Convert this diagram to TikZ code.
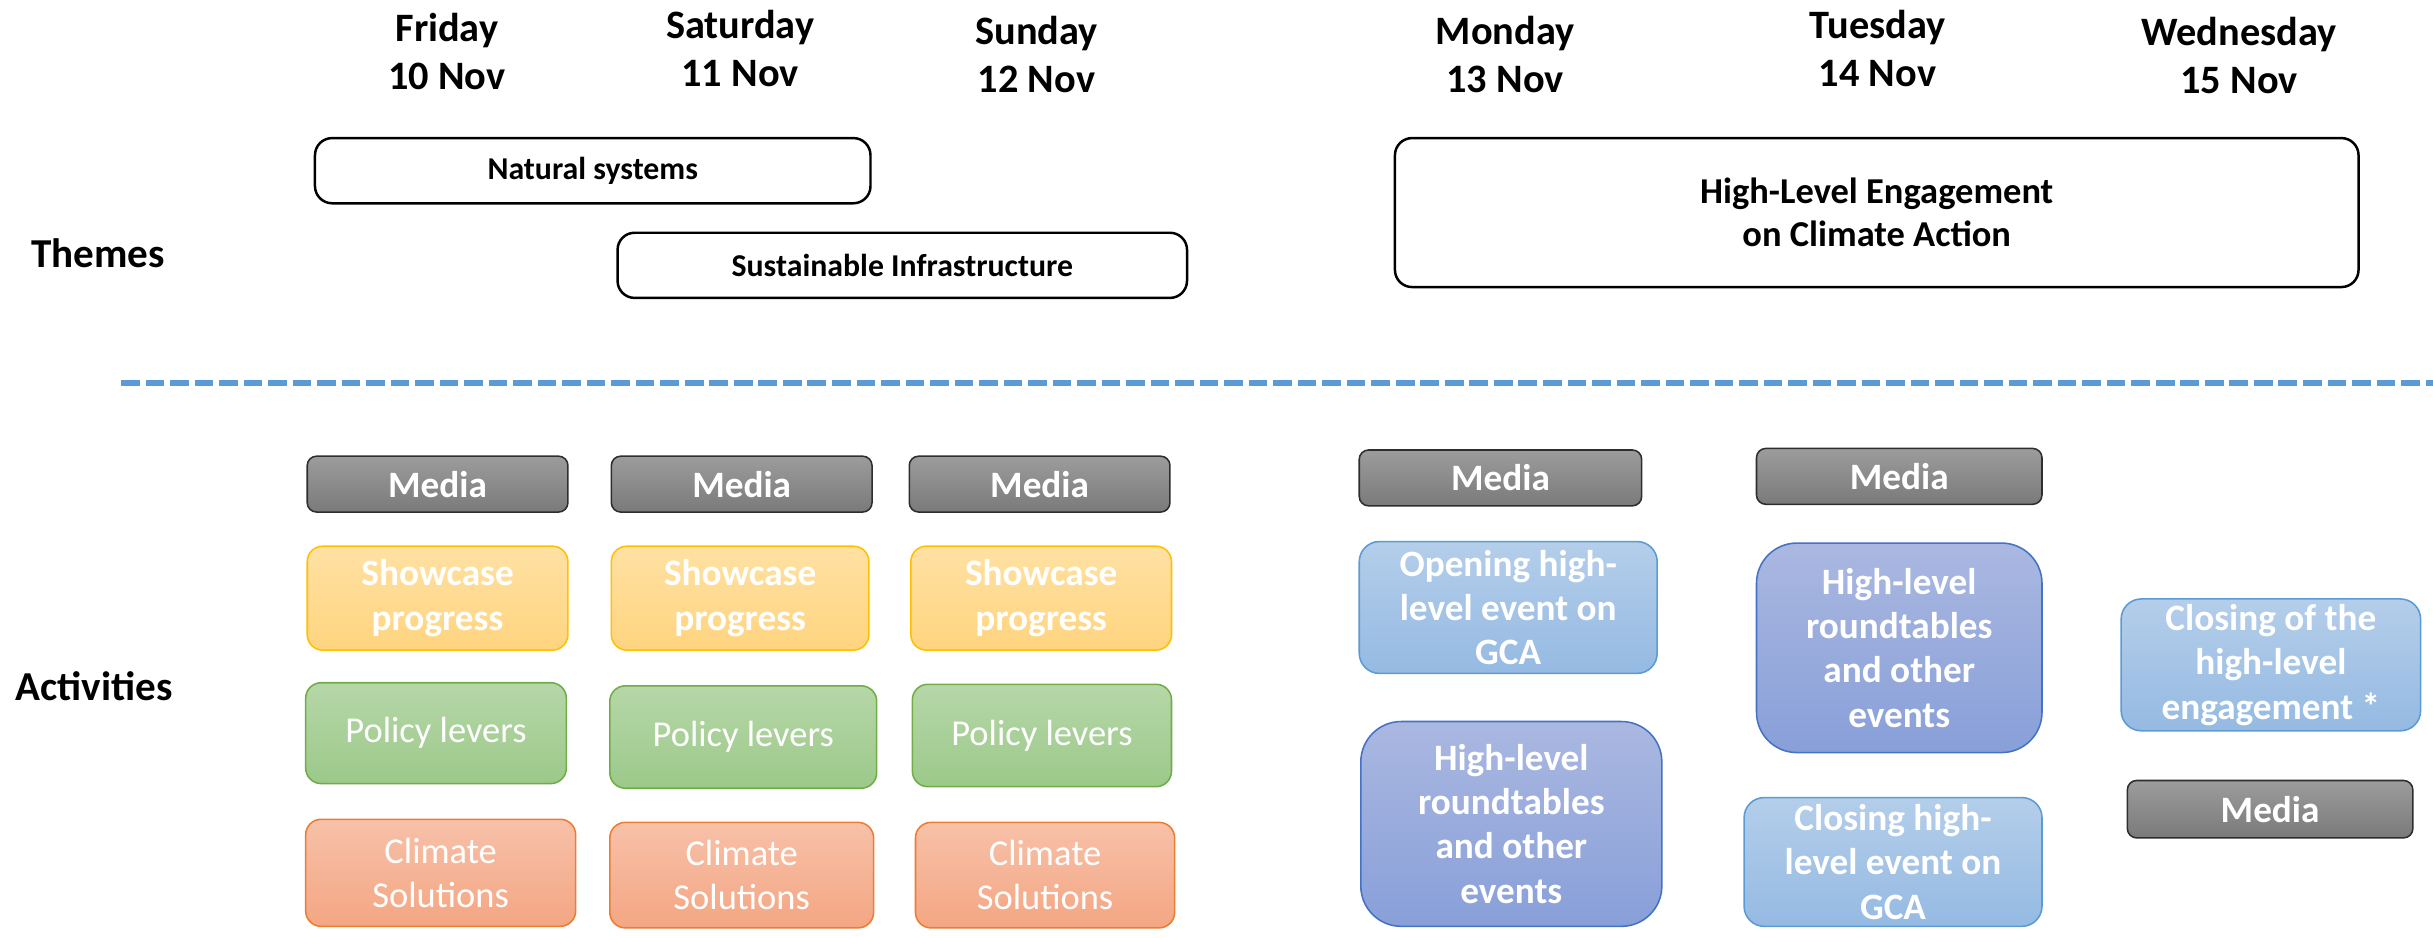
\documentclass[tikz,border=0pt]{standalone}
\usepackage{fontspec}
\setmainfont{Carlito}
\usetikzlibrary{shadings}
\definecolor{mediaTop}{HTML}{9C9C9C}
\definecolor{mediaBot}{HTML}{7A7A7A}
\definecolor{mediaBrd}{HTML}{2E2E2E}
\definecolor{showTop}{HTML}{FFE1A3}
\definecolor{showBot}{HTML}{FFD47F}
\definecolor{showBrd}{HTML}{FFC000}
\definecolor{polTop}{HTML}{B6D7A8}
\definecolor{polBot}{HTML}{9CC98A}
\definecolor{polBrd}{HTML}{70AD47}
\definecolor{cliTop}{HTML}{F7C1A9}
\definecolor{cliBot}{HTML}{F4A683}
\definecolor{cliBrd}{HTML}{ED7D31}
\definecolor{lbTop}{HTML}{B4CEEA}
\definecolor{lbBot}{HTML}{95BAE2}
\definecolor{lbBrd}{HTML}{5B9BD5}
\definecolor{dbTop}{HTML}{AAB8E1}
\definecolor{dbBot}{HTML}{889FD8}
\definecolor{dbBrd}{HTML}{4472C4}
\definecolor{dashBlue}{HTML}{5B9BD5}
\newcommand\bx[7]{\node[#2, minimum width={(#5-#3)*1pt}, minimum height={(#6-#4)*1pt}] (#1) at ({(#3+#5)/2},{(#4+#6)/2}) {#7};}
\begin{document}
\begin{tikzpicture}[x=1pt,y=-1pt,
  base/.style={inner sep=0pt, outer sep=0pt, align=center, text=white, line width=1pt},
  boldtxt/.style={font=\bfseries\fontsize{24}{28.5}\selectfont},
  regtxt/.style={font=\fontsize{23.5}{28.5}\selectfont},
  media/.style={base, boldtxt, draw=mediaBrd, top color=mediaTop, bottom color=mediaBot, rounded corners=6pt},
  showcase/.style={base, boldtxt, draw=showBrd, top color=showTop, bottom color=showBot, rounded corners=10pt},
  policy/.style={base, regtxt, draw=polBrd, top color=polTop, bottom color=polBot, rounded corners=10pt},
  climate/.style={base, regtxt, draw=cliBrd, top color=cliTop, bottom color=cliBot, rounded corners=10pt},
  lblue/.style={base, boldtxt, draw=lbBrd, top color=lbTop, bottom color=lbBot, rounded corners=13pt},
  dblue/.style={base, boldtxt, draw=dbBrd, top color=dbTop, bottom color=dbBot, rounded corners=26pt},
  theme/.style={inner sep=0pt, outer sep=0pt, align=center, text=black, draw=black, line width=1.6pt, fill=white, rounded corners=11pt, font=\bfseries\fontsize{20.5}{28}\selectfont},
  day/.style={inner sep=0pt, align=center, text=black, font=\bfseries\fontsize{26}{31}\selectfont},
  rowlabel/.style={inner sep=0pt, anchor=west, text=black, font=\bfseries\fontsize{26.5}{31}\selectfont},
  dashline/.style={draw=dashBlue, line width=3.6pt, dash pattern=on 12pt off 3.8pt}
]
\useasboundingbox (0,0) rectangle (1568,603.9);

% day headers
\node[day] (fri) at (288,33) {Friday\\10 Nov};
\node[day] (sat) at (477,31) {Saturday\\11 Nov};
\node[day] (sun) at (668,35) {Sunday\\12 Nov};
\node[day] (mon) at (970,35) {Monday\\13 Nov};
\node[day] (tue) at (1210,31) {Tuesday\\14 Nov};
\node[day] (wed) at (1443,36) {Wednesday\\15 Nov};

% row labels
\node[rowlabel] (themes) at (20,163) {Themes};
\node[rowlabel] (acts) at (10,442) {Activities};

% themes
\bx{nat}{theme}{203}{89}{561}{131}{Natural systems}
\bx{sus}{theme}{398}{150}{765}{192}{Sustainable Infrastructure}
\bx{hle}{theme,font=\bfseries\fontsize{23.5}{28}\selectfont}{899}{89}{1520}{185}{High-Level Engagement\\on Climate Action}

% separator
\coordinate (dl) at (78,247);
\coordinate (dr) at (1570,247);
\draw[dashline] (dl) -- (dr);

% Friday column
\bx{m1}{media}{198}{294}{366}{330}{Media}
\bx{s1}{showcase}{198}{352}{366}{419}{Showcase\\progress}
\bx{p1}{policy}{197}{440}{365}{505}{Policy levers}
\bx{c1}{climate}{197}{528}{371}{597}{Climate\\Solutions}

% Saturday column
\bx{m2}{media}{394}{294}{562}{330}{Media}
\bx{s2}{showcase}{394}{352}{560}{419}{Showcase\\progress}
\bx{p2}{policy}{393}{442}{565}{508}{Policy levers}
\bx{c2}{climate}{393}{530}{563}{598}{Climate\\Solutions}

% Sunday column
\bx{m3}{media}{586}{294}{754}{330}{Media}
\bx{s3}{showcase}{587}{352}{755}{419}{Showcase\\progress}
\bx{p3}{policy}{588}{441}{755}{507}{Policy levers}
\bx{c3}{climate}{590}{530}{757}{598}{Climate\\Solutions}

% Monday column
\bx{m4}{media}{876}{290}{1058}{326}{Media}
\bx{o4}{lblue}{876}{349}{1068}{434}{Opening high-\\level event on\\GCA}
\bx{r4}{dblue}{877}{465}{1071}{597}{High-level\\roundtables\\and other\\events}

% Tuesday column
\bx{m5}{media}{1132}{289}{1316}{325}{Media}
\bx{r5}{dblue}{1132}{350}{1316}{485}{High-level\\roundtables\\and other\\events}
\bx{c5}{lblue}{1124}{514}{1316}{597}{Closing high-\\level event on\\GCA}

% Wednesday column
\bx{c6}{lblue}{1367}{386}{1560}{471}{Closing of the\\high-level\\engagement *}
\bx{m6}{media}{1371}{503}{1555}{540}{Media}
\end{tikzpicture}
\end{document}
